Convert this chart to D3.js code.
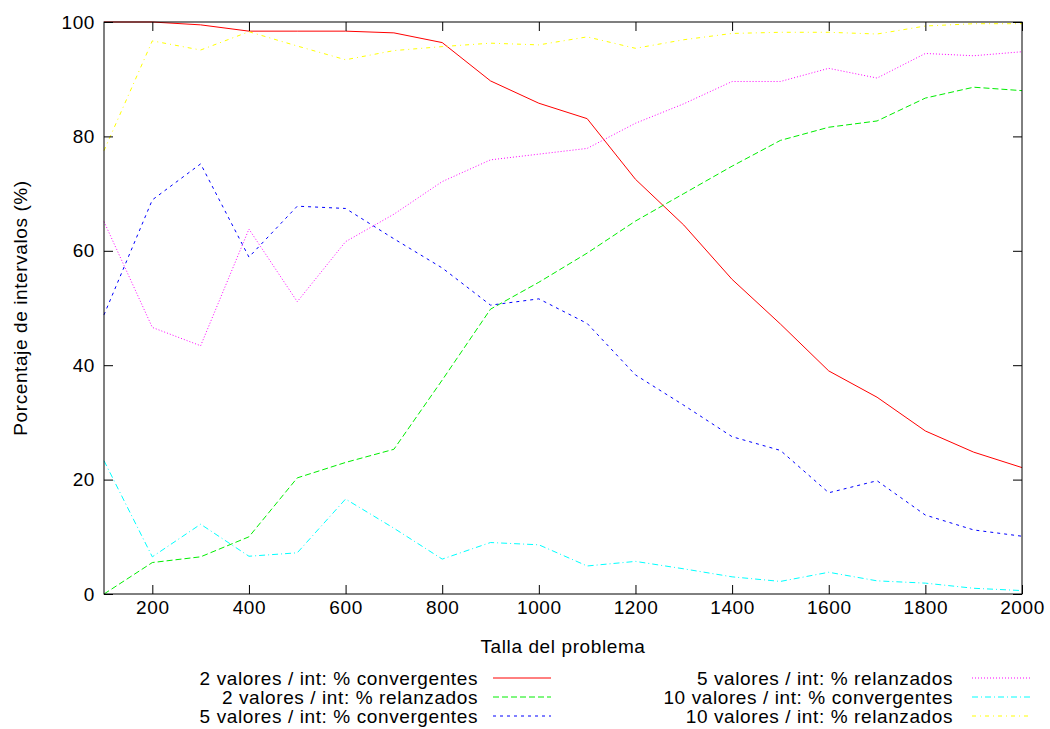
<!DOCTYPE html>
<html>
<head>
<meta charset="utf-8">
<script src="https://cdn.jsdelivr.net/npm/d3@7"></script>
<style>
  html, body { margin: 0; padding: 0; background: #fff; overflow: hidden; }
  svg { display: block; }
  text { font-family: "Liberation Sans", Arial, sans-serif; letter-spacing: 0.6px; }
</style>
</head>
<body>
<svg></svg>
<script>
// Data
const sizes = [100, 200, 300, 400, 500, 600, 700, 800, 900, 1000, 1100, 1200, 1300, 1400, 1500, 1600, 1700, 1800, 1900, 2000]
const conv2 = [100, 100, 99.5, 98.4, 98.4, 98.4, 98.1, 96.4, 89.7, 85.8, 83.1, 72.5, 64.5, 55.0, 47.2, 39.0, 34.4, 28.5, 24.8, 22.1]
const rel2 = [0, 5.5, 6.5, 10.0, 20.3, 23.0, 25.3, 37.4, 49.8, 54.5, 59.6, 65.2, 70.0, 74.8, 79.3, 81.6, 82.7, 86.7, 88.6, 88.0]
const conv5 = [48.8, 68.9, 75.2, 58.9, 67.8, 67.4, 62.1, 57.0, 50.5, 51.6, 47.3, 38.3, 33.0, 27.5, 25.1, 17.7, 19.8, 13.8, 11.2, 10.1]
const rel5 = [65.1, 46.6, 43.4, 63.8, 51.1, 61.6, 66.4, 72.1, 75.9, 76.9, 77.9, 82.3, 85.7, 89.6, 89.6, 91.9, 90.2, 94.5, 94.1, 94.8]
const conv10 = [23.3, 6.5, 12.2, 6.6, 7.2, 16.6, 11.5, 6.1, 9.0, 8.6, 4.9, 5.7, 4.4, 3.0, 2.2, 3.8, 2.3, 1.9, 1.0, 0.6]
const rel10 = [77.5, 96.7, 95.1, 98.3, 95.8, 93.4, 95.0, 95.7, 96.3, 96.0, 97.4, 95.4, 96.9, 98.0, 98.2, 98.2, 97.9, 99.3, 99.7, 99.7]

const xTicks = [200, 400, 600, 800, 1000, 1200, 1400, 1600, 1800, 2000]
const yTicks = [0, 20, 40, 60, 80, 100]

const series = [
    { name: "2 valores / int: % convergentes", values: conv2, color: "#ff0000", dash: null },
    { name: "2 valores / int: % relanzados", values: rel2, color: "#00ee00", dash: "6,3" },
    { name: "5 valores / int: % convergentes", values: conv5, color: "#0000ff", dash: "3,4" },
    { name: "5 valores / int: % relanzados", values: rel5, color: "#ff00ff", dash: "1,2" },
    { name: "10 valores / int: % convergentes", values: conv10, color: "#00ffff", dash: "6,3,1,3" },
    { name: "10 valores / int: % relanzados", values: rel10, color: "#ffff00", dash: "4,4,1,4" }
]

// Svg size
const width = 1050
const height = 729
const fontSize = "19px"

const svg = d3.select("svg")
    .attr("width", width)
    .attr("height", height)

const margin = { top: 22, right: 28, bottom: 135, left: 104 }
const innerWidth = width - margin.left - margin.right
const innerHeight = height - margin.top - margin.bottom

const xScale = d3.scaleLinear().domain([100, 2000]).range([0, innerWidth])
const yScale = d3.scaleLinear().domain([0, 100]).range([innerHeight, 0])

const g = svg.append("g")
    .attr("transform", `translate(${margin.left}, ${margin.top})`)

// Lines
const lineGenerator = (vals) => d3.line()
    .x((d, i) => xScale(sizes[i]))
    .y(d => yScale(d))(vals)

series.forEach(s => {
    g.append("path")
        .attr("d", lineGenerator(s.values))
        .attr("fill", "none")
        .attr("stroke", s.color)
        .attr("stroke-width", 1)
        .attr("stroke-dasharray", s.dash)
})

// Axes (ticks inward, mirrored)
const tickLen = 9
const xAxis = d3.axisBottom(xScale).tickValues(xTicks).tickSize(-tickLen).tickPadding(7).tickFormat(d3.format("d"))
const xAxisTop = d3.axisTop(xScale).tickValues(xTicks).tickSize(-tickLen)
const yAxis = d3.axisLeft(yScale).tickValues(yTicks).tickSize(-tickLen).tickPadding(9)
const yAxisRight = d3.axisRight(yScale).tickValues(yTicks).tickSize(-tickLen)

const styleAxis = sel => {
    sel.selectAll(".domain").remove()
    sel.selectAll("line").attr("stroke", "#000")
    sel.selectAll("text").attr("font-size", fontSize).attr("fill", "#000")
        .attr("font-family", "Liberation Sans, Arial, sans-serif")
}
const noLabels = sel => {
    sel.selectAll(".domain").remove()
    sel.selectAll("text").remove()
    sel.selectAll("line").attr("stroke", "#000")
}

g.append("g").attr("transform", `translate(0, ${innerHeight})`).call(xAxis).call(styleAxis)
g.append("g").call(xAxisTop).call(noLabels)
g.append("g").call(yAxis).call(styleAxis)
g.append("g").attr("transform", `translate(${innerWidth}, 0)`).call(yAxisRight).call(noLabels)

// Border
g.append("rect")
    .attr("width", innerWidth)
    .attr("height", innerHeight)
    .attr("fill", "none")
    .attr("stroke", "#000")
    .attr("stroke-width", 1)

// Axis labels
svg.append("text")
    .attr("x", margin.left + innerWidth / 2)
    .attr("y", 653)
    .attr("text-anchor", "middle")
    .attr("font-size", fontSize)
    .text("Talla del problema")

svg.append("text")
    .attr("transform", `translate(27, ${margin.top + innerHeight / 2}) rotate(-90)`)
    .attr("text-anchor", "middle")
    .attr("font-size", fontSize)
    .text("Porcentaje de intervalos (%)")

// Legend
const legendCols = [
    { textX: 478, lineX: 493 },
    { textX: 953, lineX: 972 }
]
const legendRows = [678, 697, 716]
series.forEach((s, i) => {
    const col = legendCols[Math.floor(i / 3)]
    const y = legendRows[i % 3]
    svg.append("text")
        .attr("x", col.textX)
        .attr("y", y + 7)
        .attr("text-anchor", "end")
        .attr("font-size", fontSize)
        .text(s.name)
    svg.append("line")
        .attr("x1", col.lineX)
        .attr("x2", col.lineX + 58)
        .attr("y1", y)
        .attr("y2", y)
        .attr("stroke", s.color)
        .attr("stroke-width", 1)
        .attr("stroke-dasharray", s.dash)
})
</script>
</body>
</html>
